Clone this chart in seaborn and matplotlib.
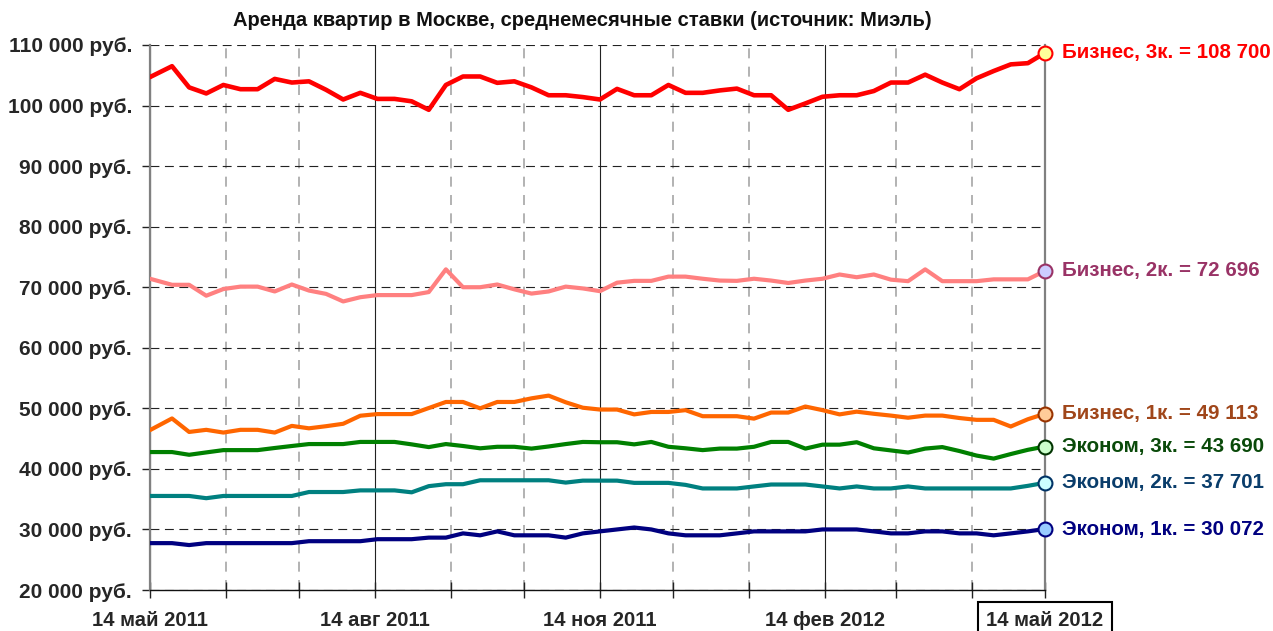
import matplotlib
matplotlib.use("Agg")
import matplotlib.pyplot as plt
import matplotlib.dates as mdates
from matplotlib.ticker import FixedLocator, FuncFormatter
import numpy as np
import pandas as pd
import seaborn as sns

# ---------------- data ----------------
dates = [pd.Timestamp("2011-05-14")] + list(pd.date_range("2011-05-23", "2012-05-14", freq="7D"))

biz3 = [104700,106500,103000,102000,103400,102700,102700,104400,103800,104000,
        102600,101000,102100,101100,101100,100700,99300,103400,104800,104800,
        103750,104000,103000,101700,101700,101400,101000,102750,101700,101700,
        103400,102100,102100,102500,102800,101700,101700,99300,100350,101450,
        101700,101700,102400,103800,103800,105100,103800,102700,104500,105700,
        106800,107000,108700]
biz2 = [71400,70400,70400,68600,69700,70100,70100,69300,70450,69450,
        68900,67650,68350,68700,68700,68700,69200,72950,70000,70000,
        70450,69650,68950,69300,70100,69800,69350,70750,71050,71050,
        71750,71750,71400,71100,71050,71400,71100,70700,71100,71400,
        72100,71650,72100,71250,71000,72950,71000,71000,71000,71300,
        71300,71300,72696]
biz1 = [46400,48330,46100,46450,46000,46450,46450,46000,47100,46700,
        47050,47450,48780,49050,49050,49050,50050,51050,51050,50000,
        51050,51050,51650,52100,51000,50100,49800,49800,49000,49400,
        49400,49700,48700,48700,48700,48300,49300,49300,50300,49700,
        49000,49450,49100,48800,48450,48800,48800,48400,48100,48100,
        47000,48200,49113]
eco3 = [42780,42780,42330,42720,43100,43100,43100,43450,43780,44100,
        44100,44100,44450,44450,44450,44050,43600,44100,43780,43400,
        43650,43650,43350,43700,44100,44450,44400,44400,44050,44450,
        43650,43400,43100,43350,43350,43650,44450,44450,43350,44000,
        44000,44400,43400,43050,42700,43350,43600,42950,42200,41700,
        42450,43150,43690]
eco2 = [35530,35530,35530,35160,35530,35530,35530,35530,35530,36180,
        36180,36180,36450,36450,36450,36130,37150,37470,37470,38120,
        38120,38120,38120,38120,37740,38060,38060,38060,37690,37690,
        37690,37360,36770,36770,36770,37100,37420,37420,37420,37100,
        36770,37100,36770,36770,37100,36770,36770,36770,36770,36770,
        36770,37200,37701]
eco1 = [27740,27740,27420,27740,27740,27740,27740,27740,27740,28060,
        28060,28060,28060,28390,28390,28390,28650,28650,29350,29030,
        29680,29030,29030,29030,28650,29350,29680,30000,30320,30000,
        29350,29030,29030,29030,29350,29680,29680,29680,29680,30000,
        30000,30000,29680,29350,29350,29680,29680,29350,29350,29030,
        29350,29680,30072]

series_names = ["Бизнес, 3к.", "Бизнес, 2к.", "Бизнес, 1к.",
                "Эконом, 3к.", "Эконом, 2к.", "Эконом, 1к."]
series_values = [biz3, biz2, biz1, eco3, eco2, eco1]
line_colors = ["#FF0000", "#FF8080", "#FF6600", "#008000", "#008080", "#000080"]
marker_fill = ["#FFFF99", "#CCCCFF", "#FFCC99", "#CCFFCC", "#CCFFFF", "#99CCFF"]
marker_edge = ["#FF0000", "#993366", "#993300", "#003300", "#003366", "#000080"]
label_colors = ["#FF0000", "#993366", "#A0461A", "#0A4A0A", "#0A3D6B", "#000080"]

x_tick_dates = ["2011-05-14", "2011-08-14", "2011-11-14", "2012-02-14", "2012-05-14"]
x_tick_labels = ["14 май 2011", "14 авг 2011", "14 ноя 2011", "14 фев 2012", "14 май 2012"]
x_minor_dates = ["2011-06-14", "2011-07-14", "2011-09-14", "2011-10-14", "2011-12-14",
                 "2012-01-14", "2012-03-14", "2012-04-14"]
y_ticks = [20000, 30000, 40000, 50000, 60000, 70000, 80000, 90000, 100000, 110000]
title = "Аренда квартир в Москве, среднемесячные ставки (источник: Миэль)"

# ---------------- frame ----------------
df = pd.concat([pd.DataFrame({"date": dates, "value": v, "series": n})
                for n, v in zip(series_names, series_values)], ignore_index=True)

sns.set_style("white")
plt.rcParams["font.family"] = ["Liberation Sans", "DejaVu Sans"]
plt.rcParams["font.weight"] = "bold"

fig = plt.figure(figsize=(12.73, 6.31), dpi=100)
ax = fig.add_axes([150/1273, 1-590/631, 895/1273, 545/631])

sns.lineplot(data=df, x="date", y="value", hue="series", hue_order=series_names,
             palette=dict(zip(series_names, line_colors)), legend=False,
             linewidth=3.0, ax=ax, zorder=5, estimator=None)
for ln in ax.get_lines():
    ln.set_solid_joinstyle("round")
    ln.set_solid_capstyle("round")
ax.get_lines()[0].set_linewidth(3.3)

ax.set_xlim(pd.Timestamp(x_tick_dates[0]), pd.Timestamp(x_tick_dates[-1]))
ax.set_ylim(y_ticks[0], y_ticks[-1])
ax.set_xlabel("")
ax.set_ylabel("")

# ticks
ax.xaxis.set_major_locator(FixedLocator(mdates.date2num(pd.to_datetime(x_tick_dates))))
ax.xaxis.set_minor_locator(FixedLocator(mdates.date2num(pd.to_datetime(x_minor_dates))))
ax.set_xticklabels(x_tick_labels)
ax.yaxis.set_major_locator(FixedLocator(y_ticks))
ax.yaxis.set_major_formatter(FuncFormatter(lambda v, p: f"{int(v):,}".replace(",", " ") + " руб."))

ax.tick_params(axis="y", which="major", direction="out", length=6, width=1, color="#222222",
               pad=7, labelsize=15, left=True)
ax.tick_params(axis="x", which="both", direction="inout", length=12, width=1, color="#222222",
               bottom=True)
ax.tick_params(axis="x", which="major", pad=9, labelsize=14.6)
for t in ax.get_xticklabels() + ax.get_yticklabels():
    t.set_fontweight("bold")

# grid
ax.yaxis.grid(True, which="major", color="#222222", linewidth=0.8, linestyle=(0, (8, 5)), zorder=1)
ax.xaxis.grid(True, which="major", color="#222222", linewidth=0.8, linestyle="-", zorder=1)
ax.xaxis.grid(True, which="minor", color="#A6A6A6", linewidth=1.2, linestyle=(0, (6, 5)), zorder=1)
ax.set_axisbelow(True)

ax.spines["top"].set_visible(False)
ax.spines["left"].set_color("#808080")
ax.spines["left"].set_linewidth(1.6)
ax.spines["right"].set_color("#808080")
ax.spines["right"].set_linewidth(1.6)
ax.spines["bottom"].set_color("#111111")
ax.spines["bottom"].set_linewidth(1.0)

# box around last x label
last = ax.get_xticklabels()[-1]
last.set_bbox(dict(boxstyle="square,pad=0.42", facecolor="white", edgecolor="black", linewidth=1.5))

# end markers and labels
for name, vals, mf, me, lc in zip(series_names, series_values, marker_fill, marker_edge, label_colors):
    xe, ye = dates[-1], vals[-1]
    ax.plot([xe], [ye], marker="o", markersize=10, markerfacecolor=mf, markeredgecolor=me,
            markeredgewidth=1.5, clip_on=False, zorder=10)
    ax.annotate(f"{name} = " + f"{ye:,}".replace(",", " "), xy=(xe, ye), xytext=(17, 0),
                textcoords="offset pixels", ha="left", va="center", fontsize=14.8,
                fontweight="bold", color=lc, annotation_clip=False)

fig.text(582/1273, 1-21/631, title, ha="center", va="center", fontsize=14.5, fontweight="bold",
         color="#111111")

fig.savefig("out.png", dpi=100, facecolor="white")
